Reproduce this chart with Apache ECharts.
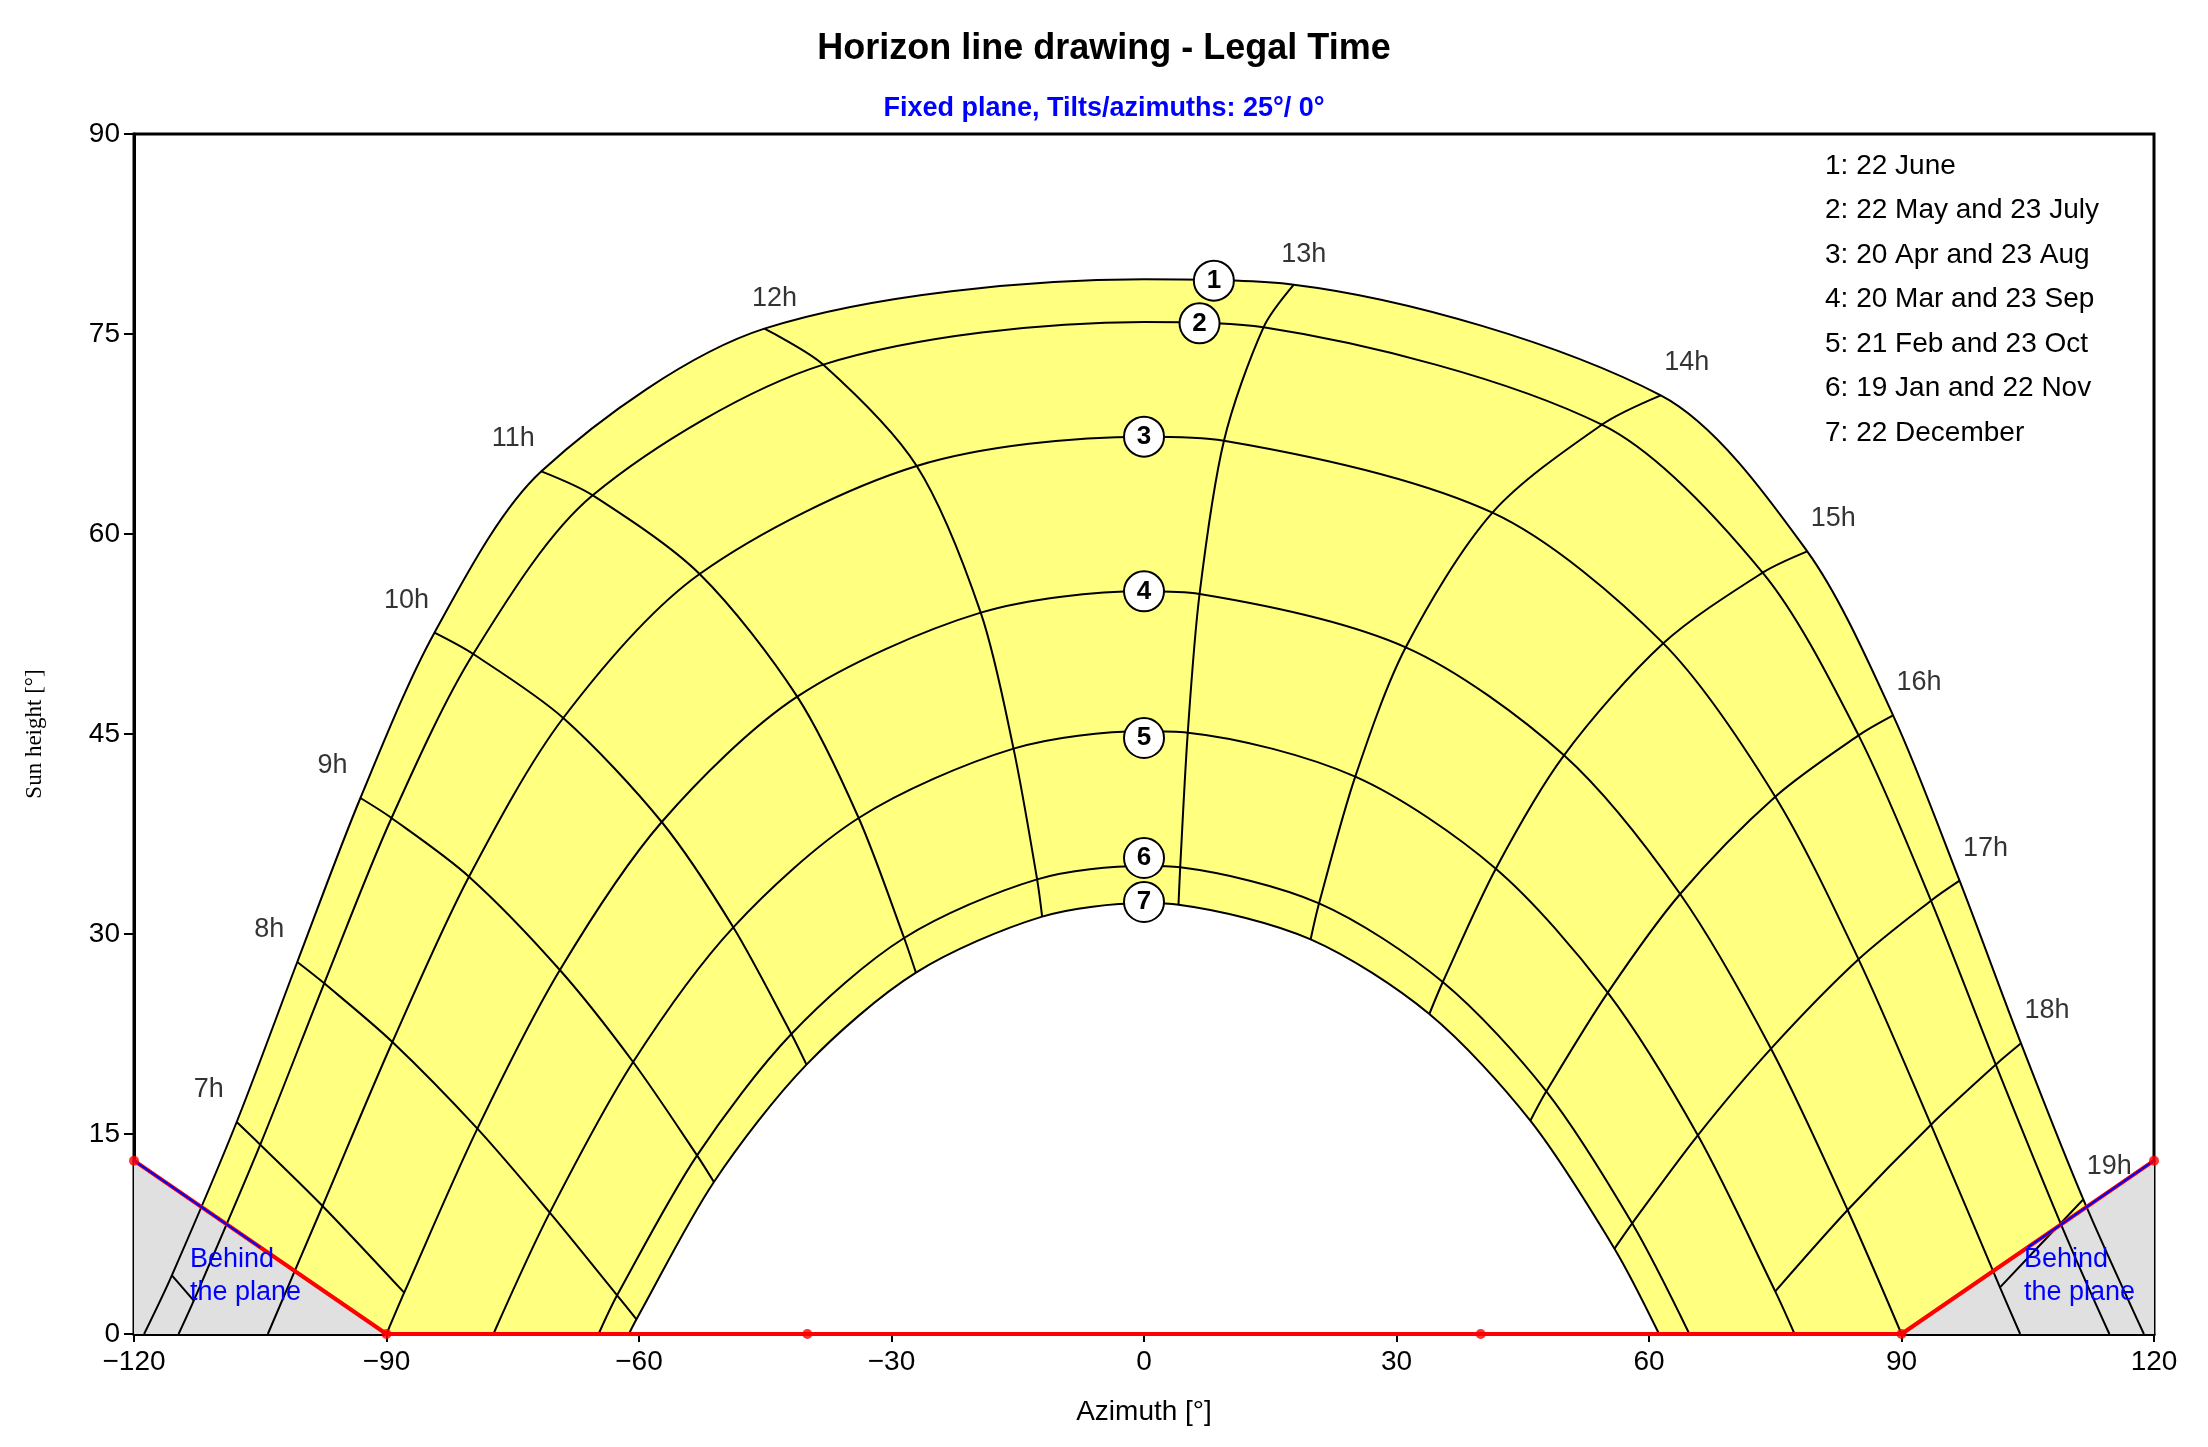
<!DOCTYPE html>
<html><head><meta charset="utf-8">
<script src="https://cdn.jsdelivr.net/npm/echarts@6/dist/echarts.min.js"></script>
<style>html,body{margin:0;padding:0;background:#fff}#c{width:2208px;height:1447px}</style>
</head><body><div id="c"></div>
<script>
// hour labels, t = 5..20
const hours = [5,6,7,8,9,10,11,12,13,14,15,16,17,18,19,20];
// sun position [azimuth, height] at each hour for each date (null = below horizon)
const d1 = [null,[-115.5,4.4],[-107.8,15.9],[-100.6,27.9],[-93.1,40.2],[-84.3,52.6],[-71.6,64.7],[-45.1,75.4],[17.8,78.7],[61.4,70.4],[78.8,58.7],[89.0,46.4],[96.9,34.0],[104.2,21.8],[111.6,10.1],null];
const d2 = [null,[-112.9,2.5],[-105.0,14.2],[-97.4,26.3],[-89.4,38.7],[-79.7,51.0],[-65.5,62.9],[-38.1,72.7],[14.2,75.5],[54.4,68.2],[73.5,57.1],[84.9,44.9],[93.5,32.5],[101.2,20.2],[108.9,8.3],null];
const d3 = [null,null,[-97.6,9.6],[-89.3,21.9],[-80.2,34.3],[-69.0,46.2],[-52.8,57.0],[-27.0,65.1],[9.5,67.0],[41.4,61.6],[61.7,51.8],[75.0,40.3],[84.9,28.1],[93.5,15.7],[101.7,3.5],null];
const d4 = [null,null,[-87.9,3.1],[-79.2,15.4],[-69.4,27.3],[-57.3,38.4],[-41.2,47.8],[-19.4,54.1],[6.6,55.5],[31.1,51.5],[49.9,43.4],[63.7,33.0],[74.5,21.4],[83.6,9.3],null,null];
const d5 = [null,null,null,[-70.6,9.1],[-60.7,20.4],[-48.8,30.5],[-33.9,38.7],[-15.5,43.9],[5.2,45.1],[25.1,41.8],[41.8,34.9],[55.1,25.6],[65.8,14.9],[75.0,3.2],null,null];
const d6 = [null,null,null,[-62.6,2.9],[-53.1,13.4],[-41.9,22.5],[-28.5,29.7],[-12.7,34.1],[4.3,35.0],[20.8,32.3],[35.5,26.4],[47.8,18.2],[58.0,8.3],null,null,null];
const d7 = [null,null,null,[-60.3,1.1],[-51.1,11.4],[-40.1,20.2],[-27.1,27.1],[-12.1,31.3],[4.1,32.2],[19.8,29.6],[33.9,24.0],[45.9,16.0],[55.9,6.4],null,null,null];
const dates = [d1,d2,d3,d4,d5,d6,d7];
const riseAz = [118.8,114.7,104.1,90.0,77.3,64.8,61.2];
const noonH = [79.1,75.9,67.3,55.7,45.2,35.1,32.3];
const dateMarks = [[8.3,79.0],[6.6,75.8],[0,67.3],[0,55.7],[0,44.7],[0,35.7],[0,32.4]];
const legendLines = ['1: 22 June','2: 22 May and 23 July','3: 20 Apr and 23 Aug','4: 20 Mar and 23 Sep','5: 21 Feb and 23 Oct','6: 19 Jan and 22 Nov','7: 22 December'];
const behindLeft = [[-120,0],[-120,13],[-90,0]];
const behindRight = [[120,0],[120,13],[90,0]];
const planeLine = [[-120,13],[-90,0],[90,0],[120,13]];
const planeDots = [[-120,13],[-90,0],[-40,0],[40,0],[90,0],[120,13]];

function curve(i){
  const pts = dates[i].filter(p=>p);
  const neg = pts.filter(p=>p[0]<0), pos = pts.filter(p=>p[0]>=0);
  return [[-riseAz[i],0],...neg,[0,noonH[i]],...pos,[riseAz[i],0]];
}
const series = [];
series.push({type:'line',data:curve(0),smooth:0.3,symbol:'none',lineStyle:{width:0},areaStyle:{color:'#ffff80',opacity:1},z:1,silent:true});
series.push({type:'line',data:curve(6),smooth:0.3,symbol:'none',lineStyle:{width:0},areaStyle:{color:'#ffffff',opacity:1},z:1,silent:true});
function poly(pts,color){
  return {type:'custom',z:2,data:[0],renderItem:(p,api)=>({type:'polygon',shape:{points:pts.map(q=>api.coord(q))},style:{fill:color}})};
}
series.push(poly(behindLeft,'#e0e0e0'));
series.push(poly(behindRight,'#e0e0e0'));
for(let i=0;i<7;i++) series.push({type:'line',data:curve(i),smooth:0.3,symbol:'none',lineStyle:{color:'#000',width:2},z:3});
for(let k=0;k<hours.length;k++){
  const pts = dates.map(d=>d[k]).filter(p=>p);
  if(pts.length<2) continue;
  series.push({type:'line',data:pts,smooth:0.3,symbol:'none',lineStyle:{color:'#000',width:2},z:3});
}
series.push({type:'line',data:planeLine,symbol:'none',lineStyle:{color:'#ff0000',width:4},z:5});
series.push({type:'line',data:[[-120,13],[-105,6.5]],symbol:'none',lineStyle:{color:'#0000ff',width:2},z:6});
series.push({type:'line',data:[[105,6.5],[120,13]],symbol:'none',lineStyle:{color:'#0000ff',width:2},z:6});
series.push({type:'scatter',data:planeDots,symbolSize:10,itemStyle:{color:'#ff0000'},z:6});
// hour labels at June points
const hourLab = [];
hours.forEach((h,k)=>{ if(d1[k] && h>=7){ const p=d1[k]; hourLab.push({value:p,label:{formatter:h+'h',offset: h<12?[-28,-14]:(h<=13?[10,-12]:[26,-14])}}); }});
series.push({type:'scatter',data:hourLab,symbolSize:0,z:7,label:{show:true,position:'top',color:'#000',fontSize:27,fontFamily:'Liberation Sans'}});
series.push({type:'scatter',data:dateMarks.map((p,i)=>({value:p,label:{formatter:String(i+1)}})),symbol:'circle',symbolSize:40,
  itemStyle:{color:'#fff',borderColor:'#000',borderWidth:2,opacity:1},z:8,
  label:{show:true,position:'inside',color:'#000',fontSize:26,fontWeight:'bold',fontFamily:'Liberation Sans'}});

const minus = v=>String(v).replace('-','\u2212');
const option = {
  animation:false,
  title:[{text:'Horizon line drawing - Legal Time',left:'center',top:26,textStyle:{fontSize:36,fontWeight:'bold',color:'#000',fontFamily:'Liberation Sans'}},
         {text:'Fixed plane, Tilts/azimuths: 25°/ 0°',left:'center',top:90,textStyle:{fontSize:27,fontWeight:'bold',color:'#0000ff',fontFamily:'Liberation Sans'}}],
  grid:{left:134,right:54,top:134,bottom:113,show:true,borderColor:'#000',borderWidth:3,backgroundColor:'transparent'},
  xAxis:{type:'value',min:-120,max:120,interval:30,name:'Azimuth [°]',nameLocation:'middle',nameGap:64,
    nameTextStyle:{fontSize:28,color:'#000',fontFamily:'Liberation Sans'},
    axisLine:{onZero:false,lineStyle:{color:'#000',width:3}},axisTick:{show:true,length:8,lineStyle:{color:'#000',width:2}},splitLine:{show:false},
    axisLabel:{fontSize:28,color:'#000',margin:14,formatter:minus,fontFamily:'Liberation Sans'}},
  yAxis:{type:'value',min:0,max:90,interval:15,name:'Sun height [°]',nameLocation:'middle',nameGap:88,
    nameTextStyle:{fontSize:23,color:'#000',fontFamily:'Liberation Serif'},
    axisLine:{show:true,onZero:false,lineStyle:{color:'#000',width:3}},axisTick:{show:true,length:10,lineStyle:{color:'#000',width:2}},splitLine:{show:false},
    axisLabel:{fontSize:28,color:'#000',margin:14,fontFamily:'Liberation Sans'}},
  graphic:[
    {type:'group',left:1825,top:152,children:legendLines.map((t,i)=>({type:'text',x:0,y:i*44.5,style:{text:t,fontSize:28,fill:'#000',fontFamily:'Liberation Sans',backgroundColor:'#fff'}}))},
    {type:'text',left:190,top:1243,style:{text:'Behind\nthe plane',fontSize:27,fill:'#0000ff',fontFamily:'Liberation Sans',align:'center',lineHeight:33},z:10},
    {type:'text',left:2024,top:1243,style:{text:'Behind\nthe plane',fontSize:27,fill:'#0000ff',fontFamily:'Liberation Sans',align:'center',lineHeight:33},z:10}
  ],
  series
};
echarts.init(document.getElementById('c')).setOption(option);
</script></body></html>
